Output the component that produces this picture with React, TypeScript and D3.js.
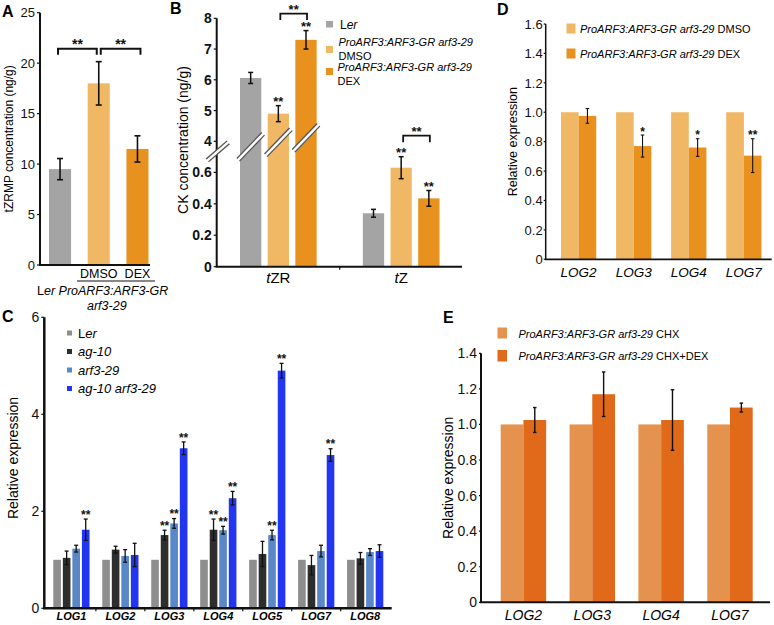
import React from 'react';
import * as d3 from 'd3';

const FONT = '"Liberation Sans", Arial, Helvetica, sans-serif';

// ---- Panel A: tZRMP concentration
const aGroups = ['Ler', 'DMSO', 'DEX'];
const aValues = [9.5, 18.0, 11.5];
const aErrors = [1.05, 2.15, 1.3];
const aTicks = [0, 5, 10, 15, 20, 25];
const aBrackets: [number, number, string][] = [[0, 1, '**'], [1, 2, '**']];

// ---- Panel B: CK concentration (broken axis)
const bCompounds = ['tZR', 'tZ'];
const bSeries = ['Ler', 'DMSO', 'DEX'];
const bValues = [[6.06, 4.9, 7.3], [0.34, 0.63, 0.435]];
const bErrors = [[0.18, 0.26, 0.3], [0.025, 0.07, 0.05]];
const bStars = [['', '**', '**'], ['', '**', '**']];
const bTicksUpper = [4, 5, 6, 7, 8];
const bTicksLower = [0, 0.2, 0.4, 0.6];
const bBrackets: [number, number, string, number][] = [[0, 1, '**', 17], [1, 1, '**', 21]];

// ---- Panel C: LOG expression in mutants
const cGenes = ['LOG1', 'LOG2', 'LOG3', 'LOG4', 'LOG5', 'LOG7', 'LOG8'];
const cLines = ['Ler', 'ag-10', 'arf3-29', 'ag-10 arf3-29'];
const cLer = [1, 1, 1, 1, 1, 1, 1];
const cAg10 = [1.04, 1.21, 1.51, 1.62, 1.12, 0.89, 1.03];
const cArf3 = [1.23, 1.08, 1.75, 1.61, 1.51, 1.18, 1.16];
const cDouble = [1.62, 1.1, 3.3, 2.27, 4.9, 3.16, 1.18];
const cAg10Err = [0.14, 0.07, 0.1, 0.22, 0.26, 0.2, 0.12];
const cArf3Err = [0.07, 0.13, 0.1, 0.08, 0.1, 0.12, 0.07];
const cDoubleErr = [0.22, 0.24, 0.13, 0.14, 0.15, 0.13, 0.13];
const cAg10Stars = ['', '', '**', '**', '', '', ''];
const cArf3Stars = ['', '', '**', '**', '**', '', ''];
const cDoubleStars = ['**', '', '**', '**', '**', '**', ''];
const cTicks = [0, 2, 4, 6];

// ---- Panel D: DMSO vs DEX
const dGenes = ['LOG2', 'LOG3', 'LOG4', 'LOG7'];
const dDmso = [1, 1, 1, 1];
const dDex = [0.975, 0.77, 0.76, 0.705];
const dDexErr = [0.05, 0.075, 0.06, 0.115];
const dStars = ['', '*', '*', '**'];
const dTicks = [0, 0.2, 0.4, 0.6, 0.8, 1.0, 1.2, 1.4, 1.6];

// ---- Panel E: CHX vs CHX+DEX
const eGenes = ['LOG2', 'LOG3', 'LOG4', 'LOG7'];
const eChx = [1, 1, 1, 1];
const eChxDex = [1.025, 1.17, 1.025, 1.095];
const eChxDexErr = [0.07, 0.125, 0.17, 0.025];
const eTicks = [0, 0.2, 0.4, 0.6, 0.8, 1.0, 1.2, 1.4];

const GRAY = '#a4a4a4';
const DMSO = '#f0b865';
const DEX = '#e8911f';
const CHX = '#e5924f';
const CHXDEX = '#e06a1a';
const cColors = ['#8e8e8e', '#2e2e2e', '#5a87c7', '#2236f2'];

const fmt1 = (v: number) => (v === 0 ? '0' : v.toFixed(1));

const ErrorBar = ({ x, y1, y2, cap = 5, w = 1.3 }: any) => (
  <g stroke="#111" strokeWidth={w}>
    <line x1={x} x2={x} y1={y1} y2={y2} />
    <line x1={x - cap / 2} x2={x + cap / 2} y1={y1} y2={y1} />
    <line x1={x - cap / 2} x2={x + cap / 2} y1={y2} y2={y2} />
  </g>
);

const Stars = ({ x, y, text, size = 14 }: any) => (
  <text x={x} y={y + size * 0.55} textAnchor="middle" fontSize={size} fontWeight="bold" fill="#111">
    {text}
  </text>
);

const YTicks = ({ x, scale, ticks, format, size, weight = 'normal', gap = 5, len = 3 }: any) => (
  <g>
    {ticks.map((t: number) => (
      <g key={t}>
        <line x1={x - len} x2={x} y1={scale(t)} y2={scale(t)} stroke="#111" strokeWidth={1.2} />
        <text x={x - gap} y={scale(t)} dy="0.36em" textAnchor="end" fontSize={size} fontWeight={weight} fill="#111">
          {format ? format(t) : t}
        </text>
      </g>
    ))}
  </g>
);

const Slash = ({ cx, cy, dx, dy }: any) => (
  <g>
    <line x1={cx - dx} y1={cy + dy} x2={cx + dx} y2={cy - dy} stroke="#555" strokeWidth={5} />
    <line x1={cx - dx - 1} y1={cy + dy + 1} x2={cx + dx + 1} y2={cy - dy - 1} stroke="#fff" strokeWidth={2.4} />
  </g>
);

export default function App() {
  // Panel A scales
  const aY = d3.scaleLinear().domain([0, 25]).range([265, 12.7]);
  const aX = d3.scaleBand().domain(aGroups).range([49, 148.5]).paddingInner(0.43).paddingOuter(0);
  const aColors = [GRAY, DMSO, DEX];
  const aCx = (i: number) => (aX(aGroups[i]) as number) + aX.bandwidth() / 2;

  // Panel B scales (piecewise linear for the axis break)
  const bY = d3.scaleLinear().domain([0, 0.7, 3.5, 8]).range([266.7, 156.7, 156.7, 18.3]);
  const bX0 = d3.scaleBand().domain(bCompounds).range([240, 439.5]).paddingInner(0.376).paddingOuter(0);
  const bX1 = d3.scaleBand().domain(bSeries).range([0, bX0.bandwidth()]).paddingInner(0.23).paddingOuter(0);
  const bColors = [GRAY, DMSO, DEX];
  const bCx = (g: number, s: number) => (bX0(bCompounds[g]) as number) + (bX1(bSeries[s]) as number) + bX1.bandwidth() / 2;
  const bMid = ((bX0('tZR') as number) + bX0.bandwidth() + (bX0('tZ') as number)) / 2;

  // Panel C scales
  const cY = d3.scaleLinear().domain([0, 6]).range([608.3, 317.3]);
  const cX0 = d3.scaleBand().domain(cGenes).range([53.3, 383.3]).paddingInner(0.26).paddingOuter(0);
  const cX1 = d3.scaleBand().domain(cLines).range([0, cX0.bandwidth()]).paddingInner(0.2).paddingOuter(0);
  const cSeries = [cLer, cAg10, cArf3, cDouble];
  const cErrs = [null, cAg10Err, cArf3Err, cDoubleErr];
  const cStars = [null, cAg10Stars, cArf3Stars, cDoubleStars];

  // Panel D scales
  const dY = d3.scaleLinear().domain([0, 1.6]).range([259.3, 24]);
  const dX0 = d3.scaleBand().domain(dGenes).range([561, 761.5]).paddingInner(0.36).paddingOuter(0);
  const dX1 = d3.scaleBand().domain(['DMSO', 'DEX']).range([0, dX0.bandwidth()]);

  // Panel E scales
  const eY = d3.scaleLinear().domain([0, 1.4]).range([602.3, 353.3]);
  const eX0 = d3.scaleBand().domain(eGenes).range([500.7, 752.7]).paddingInner(0.34).paddingOuter(0);
  const eX1 = d3.scaleBand().domain(['CHX', 'CHX+DEX']).range([0, eX0.bandwidth()]);

  const geno = 'ProARF3:ARF3-GR arf3-29';

  return (
    <svg width={774} height={625} style={{ position: 'absolute', left: 0, top: 0, background: '#fff' }} fontFamily={FONT}>
      <rect width={774} height={625} fill="#fff" />

      {/* ================= A ================= */}
      <text x={2} y={17} fontSize={16} fontWeight="bold">A</text>
      <text transform={`translate(13,${aY(12.5)}) rotate(-90)`} textAnchor="middle" fontSize={12}>
        tZRMP concentration (ng/g)
      </text>
      {aGroups.map((g, i) => (
        <rect key={g} x={aX(g)} width={aX.bandwidth()} y={aY(aValues[i])} height={aY(0) - aY(aValues[i])} fill={aColors[i]} />
      ))}
      {aGroups.map((g, i) => (
        <ErrorBar key={g} x={aCx(i)} y1={aY(aValues[i] + aErrors[i])} y2={aY(aValues[i] - aErrors[i])} cap={6} w={1.6} />
      ))}
      {aBrackets.map(([a, b, s], i) => {
        const top = Math.min(aY(aValues[a] + aErrors[a]), aY(aValues[b] + aErrors[b])) - 13;
        const x1 = aCx(a) + (i === 0 ? -2 : 2);
        const x2 = aCx(b) + (i === 0 ? -2 : 3);
        return (
          <g key={i}>
            <path d={`M${x1},${top + 6}V${top}H${x2}V${top + 6}`} fill="none" stroke="#111" strokeWidth={2} />
            <Stars x={(x1 + x2) / 2} y={top - 7.5} text={s} size={14} />
          </g>
        );
      })}
      <line x1={40} x2={40} y1={aY(25)} y2={aY(0)} stroke="#111" strokeWidth={2} />
      <line x1={39} x2={150} y1={aY(0)} y2={aY(0)} stroke="#111" strokeWidth={2} />
      <YTicks x={40} scale={aY} ticks={aTicks} size={13} gap={5} />
      <text x={aCx(1)} y={278} textAnchor="middle" fontSize={12.5}>DMSO</text>
      <text x={aCx(2)} y={278} textAnchor="middle" fontSize={12.5}>DEX</text>
      <line x1={77} x2={155} y1={281} y2={281} stroke="#111" strokeWidth={1.2} />
      <text x={37} y={295} fontSize={12.5}>
        L<tspan fontStyle="italic">er ProARF3:ARF3-GR</tspan>
      </text>
      <text x={87} y={310} fontSize={12.5} fontStyle="italic">arf3-29</text>

      {/* ================= B ================= */}
      <text x={170} y={14} fontSize={16} fontWeight="bold">B</text>
      <text transform={`translate(188,140) rotate(-90)`} textAnchor="middle" fontSize={14}>
        CK concentration (ng/g)
      </text>
      {bCompounds.map((c, g) =>
        bSeries.map((s, i) => (
          <rect key={c + s} x={(bX0(c) as number) + (bX1(s) as number)} width={bX1.bandwidth()}
            y={bY(bValues[g][i])} height={bY(0) - bY(bValues[g][i])} fill={bColors[i]} />
        ))
      )}
      {bCompounds.map((c, g) =>
        bSeries.map((s, i) => (
          <g key={c + s}>
            <ErrorBar x={bCx(g, i)} y1={bY(bValues[g][i] + bErrors[g][i])} y2={bY(bValues[g][i] - bErrors[g][i])} cap={5} w={1.5} />
            {bStars[g][i] && <Stars x={bCx(g, i)} y={bY(bValues[g][i] + bErrors[g][i]) - 6.5} text={bStars[g][i]} size={13} />}
          </g>
        ))
      )}
      {bBrackets.map(([g, a, s, off], k) => {
        const x1 = bCx(g, a) + 2;
        const x2 = bCx(g, a + 1) + 1;
        const top = Math.min(bY(bValues[g][a] + bErrors[g][a]), bY(bValues[g][a + 1] + bErrors[g][a + 1])) - off;
        return (
          <g key={k}>
            <path d={`M${x1},${top + 6.5}V${top}H${x2}V${top + 6.5}`} fill="none" stroke="#111" strokeWidth={1.8} />
            <Stars x={(x1 + x2) / 2} y={top - 6.5} text={s} size={13} />
          </g>
        );
      })}
      <line x1={216.7} x2={216.7} y1={bY(8)} y2={bY(0)} stroke="#111" strokeWidth={2} />
      <line x1={215.7} x2={462} y1={bY(0)} y2={bY(0)} stroke="#111" strokeWidth={2} />
      <line x1={bMid} x2={bMid} y1={bY(0)} y2={bY(0) + 3} stroke="#111" strokeWidth={1.2} />
      <YTicks x={216.7} scale={bY} ticks={bTicksUpper} size={14} weight="bold" gap={5} />
      <YTicks x={216.7} scale={bY} ticks={bTicksLower} format={(v: number) => (v === 0 ? '0' : v.toFixed(1))} size={14} weight="bold" gap={5} />
      <Slash cx={217.8} cy={bY(4) + 10} dx={10.5} dy={9} />
      {bSeries.map((s, i) => (
        <Slash key={s} cx={bCx(0, i)} cy={bY(4) + 5.5 - i * 4.5} dx={12.5} dy={13} />
      ))}
      {bCompounds.map((c) => (
        <text key={c} x={(bX0(c) as number) + bX0.bandwidth() / 2} y={283} textAnchor="middle" fontSize={15}>
          <tspan fontStyle="italic">t</tspan>{c.slice(1)}
        </text>
      ))}
      {/* B legend */}
      <rect x={326} y={21} width={7} height={6.5} fill={GRAY} />
      <text x={340} y={29} fontSize={12}>L<tspan fontStyle="italic">er</tspan></text>
      <rect x={326} y={46} width={7} height={7} fill={DMSO} />
      <text x={338.5} y={46} fontSize={11} fontStyle="italic">{geno}</text>
      <text x={338.5} y={59.5} fontSize={11}>DMSO</text>
      <rect x={326} y={68} width={7} height={7} fill={DEX} />
      <text x={337.5} y={71} fontSize={11} fontStyle="italic">{geno}</text>
      <text x={337.5} y={84.5} fontSize={11}>DEX</text>

      {/* ================= C ================= */}
      <text x={2} y={322} fontSize={16} fontWeight="bold">C</text>
      <text transform={`translate(18,458) rotate(-90)`} textAnchor="middle" fontSize={14}>Relative expression</text>
      {cGenes.map((g, gi) =>
        cLines.map((l, li) => {
          const v = cSeries[li][gi];
          const x = (cX0(g) as number) + (cX1(l) as number);
          const cx = x + cX1.bandwidth() / 2;
          const err = cErrs[li];
          const st = cStars[li];
          const top = err ? cY(v + err[gi]) : cY(v);
          return (
            <g key={g + l}>
              <rect x={x} width={cX1.bandwidth()} y={cY(v)} height={cY(0) - cY(v)} fill={cColors[li]} />
              {err && <ErrorBar x={cx} y1={cY(v + err[gi])} y2={cY(v - err[gi])} cap={4} w={1.3} />}
              {st && st[gi] && <Stars x={cx} y={top - 7} text={st[gi]} size={12} />}
            </g>
          );
        })
      )}
      <line x1={44.3} x2={44.3} y1={cY(6)} y2={cY(0)} stroke="#111" strokeWidth={2.5} />
      <line x1={43} x2={391.7} y1={cY(0)} y2={cY(0)} stroke="#111" strokeWidth={2.5} />
      {cGenes.slice(1).map((g) => (
        <line key={g} x1={(cX0(g) as number) - (cX0.step() - cX0.bandwidth()) / 2} x2={(cX0(g) as number) - (cX0.step() - cX0.bandwidth()) / 2}
          y1={cY(0)} y2={cY(0) + 3} stroke="#111" strokeWidth={1.2} />
      ))}
      <YTicks x={44.3} scale={cY} ticks={cTicks} size={14} gap={5} />
      {cGenes.map((g) => (
        <text key={g} x={(cX0(g) as number) + cX0.bandwidth() / 2} y={620} textAnchor="middle" fontSize={11} fontStyle="italic" fontWeight="bold">
          {g}
        </text>
      ))}
      {/* C legend */}
      {cLines.map((l, i) => (
        <g key={l}>
          <rect x={67} y={333 + i * 18.5 - 2.5} width={5} height={5} fill={cColors[i]} />
          <text x={78} y={333 + i * 18.5 + 4.5} fontSize={13}>
            {i === 0 ? <>L<tspan fontStyle="italic">er</tspan></> : <tspan fontStyle="italic">{l}</tspan>}
          </text>
        </g>
      ))}

      {/* ================= D ================= */}
      <text x={497} y={15} fontSize={16} fontWeight="bold">D</text>
      <text transform={`translate(517,${dY(0.8)}) rotate(-90)`} textAnchor="middle" fontSize={12.5}>Relative expression</text>
      {dGenes.map((g, i) => {
        const x0 = dX0(g) as number;
        const xd = x0 + (dX1('DEX') as number);
        const cx = xd + dX1.bandwidth() / 2;
        return (
          <g key={g}>
            <rect x={x0 + (dX1('DMSO') as number)} width={dX1.bandwidth()} y={dY(dDmso[i])} height={dY(0) - dY(dDmso[i])} fill={DMSO} />
            <rect x={xd} width={dX1.bandwidth()} y={dY(dDex[i])} height={dY(0) - dY(dDex[i])} fill={DEX} />
            <ErrorBar x={cx} y1={dY(dDex[i] + dDexErr[i])} y2={dY(dDex[i] - dDexErr[i])} cap={3.5} w={1.1} />
            {dStars[i] && <Stars x={cx} y={dY(dDex[i] + dDexErr[i]) - 6} text={dStars[i]} size={12} />}
          </g>
        );
      })}
      <line x1={545.7} x2={545.7} y1={dY(1.6)} y2={dY(0)} stroke="#111" strokeWidth={1.5} />
      <line x1={545} x2={771.7} y1={dY(0)} y2={dY(0)} stroke="#111" strokeWidth={1.8} />
      <YTicks x={545.7} scale={dY} ticks={dTicks} format={fmt1} size={13} gap={3} len={2} />
      {dGenes.map((g) => (
        <text key={g} x={(dX0(g) as number) + dX0.bandwidth() / 2} y={277} textAnchor="middle" fontSize={13.5} fontStyle="italic">{g}</text>
      ))}
      <rect x={566.5} y={23.5} width={9} height={10} fill={DMSO} />
      <text x={580} y={32.5} fontSize={11}><tspan fontStyle="italic">{geno}</tspan> DMSO</text>
      <rect x={566.5} y={48.5} width={9} height={10} fill={DEX} />
      <text x={580} y={57.5} fontSize={11}><tspan fontStyle="italic">{geno}</tspan> DEX</text>

      {/* ================= E ================= */}
      <text x={443} y={323} fontSize={16} fontWeight="bold">E</text>
      <text transform={`translate(453,${eY(0.7)}) rotate(-90)`} textAnchor="middle" fontSize={14}>Relative expression</text>
      {eGenes.map((g, i) => {
        const x0 = eX0(g) as number;
        const xd = x0 + (eX1('CHX+DEX') as number);
        const cx = xd + eX1.bandwidth() / 2;
        return (
          <g key={g}>
            <rect x={x0 + (eX1('CHX') as number)} width={eX1.bandwidth()} y={eY(eChx[i])} height={eY(0) - eY(eChx[i])} fill={CHX} />
            <rect x={xd} width={eX1.bandwidth()} y={eY(eChxDex[i])} height={eY(0) - eY(eChxDex[i])} fill={CHXDEX} />
            <ErrorBar x={cx} y1={eY(eChxDex[i] + eChxDexErr[i])} y2={eY(eChxDex[i] - eChxDexErr[i])} cap={3.5} w={1.4} />
          </g>
        );
      })}
      <line x1={481} x2={481} y1={eY(1.4)} y2={eY(0)} stroke="#111" strokeWidth={2} />
      <line x1={480} x2={770} y1={eY(0)} y2={eY(0)} stroke="#111" strokeWidth={2} />
      <YTicks x={481} scale={eY} ticks={eTicks} format={fmt1} size={14} gap={4} len={2} />
      {eGenes.map((g) => (
        <text key={g} x={(eX0(g) as number) + eX0.bandwidth() / 2} y={620} textAnchor="middle" fontSize={14} fontStyle="italic">{g}</text>
      ))}
      <rect x={497.5} y={327.5} width={9.5} height={11} fill={CHX} />
      <text x={518.5} y={337.5} fontSize={11}><tspan fontStyle="italic">{geno}</tspan> CHX</text>
      <rect x={497.5} y={350} width={9.5} height={11.5} fill={CHXDEX} />
      <text x={518.5} y={360} fontSize={11}><tspan fontStyle="italic">{geno}</tspan> CHX+DEX</text>
    </svg>
  );
}
